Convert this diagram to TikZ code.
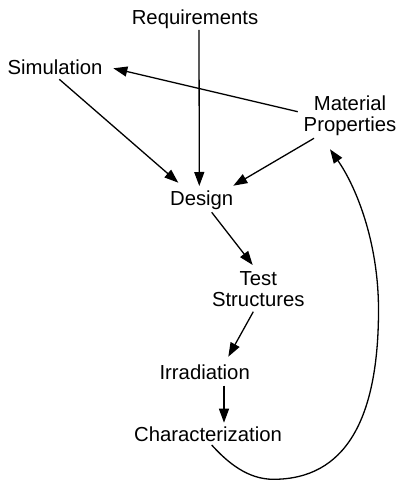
\documentclass[tikz,border=0pt]{standalone}
\usepackage{fontspec}
\setmainfont{Liberation Sans}
\usetikzlibrary{arrows.meta}
\begin{document}
\begin{tikzpicture}[x=1pt,y=-1pt,
  label/.style={inner sep=0pt,anchor=base,align=center,
    font=\fontsize{20.3}{21.5}\selectfont},
  flow/.style={line width=1.3pt,-{Triangle[length=14pt,width=10pt]}}]
\useasboundingbox (0,0) rectangle (400,481);

% stages of the workflow (base = baseline of the last line)
\node[label] (req) at (195,25)      {Requirements};
\node[label] (sim) at (55,75)       {Simulation};
\node[label] (mat) at (350,132)     {Material\\Properties};
\node[label] (des) at (201.7,205.5) {Design};
\node[label] (tst) at (258.3,306.7) {Test\\Structures};
\node[label] (irr) at (204.7,379)   {Irradiation};
\node[label] (chr) at (208,441.7)   {Characterization};

% inputs to the design
\draw[flow] ([shift={(4,5)}]req.base) -- ([shift={(-2.4,-19.5)}]des.base);
\draw[flow] ([shift={(-52.3,-20.3)}]mat.base) -- ([shift={(58.3,-6.7)}]sim.base);
\draw[flow] ([shift={(4.3,4.3)}]sim.base) -- ([shift={(-23.4,-22.8)}]des.base);
\draw[flow] ([shift={(-36,6.3)}]mat.base) -- ([shift={(31.6,-19.8)}]des.base);

% fabrication and testing chain
\draw[flow] ([shift={(10,6.8)}]des.base) -- ([shift={(-5.6,-41.7)}]tst.base);
\draw[flow] ([shift={(-5,5)}]tst.base) -- ([shift={(23.6,-22.3)}]irr.base);
\draw[flow] ([shift={(19.3,6.7)}]irr.base) -- ([shift={(16,-19)}]chr.base);

% feedback loop from characterization to material properties
\coordinate (lowpt) at (273.3,479.3);
\coordinate (rightpt) at (378.5,310);
\draw[flow] ([shift={(3.7,3.3)}]chr.base)
  .. controls (228,463) and (248,479.3) .. (lowpt)
  .. controls (345,479.3) and (378.5,420) .. (rightpt)
  .. controls (378.5,240) and (355,185) .. ([shift={(-20,17.3)}]mat.base);
\end{tikzpicture}
\end{document}
